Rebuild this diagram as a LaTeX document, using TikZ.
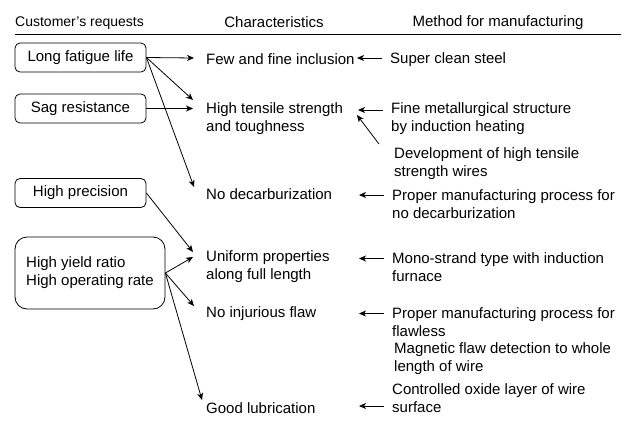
\documentclass[tikz,border=0pt]{standalone}
\usepackage{fontspec}
\setmainfont{Liberation Sans}
\usetikzlibrary{arrows.meta}
\newcommand\bodyfont{\fontsize{15}{18}\selectfont}
\newcommand\headfont{\fontsize{14}{17}\selectfont}
\tikzset{
  req/.style={draw, line width=0.8pt, rounded corners=5pt, minimum width=131pt, minimum height=29pt, inner sep=0pt, font=\bodyfont},
  txt/.style={anchor=west, align=left, inner sep=0pt, font=\bodyfont},
  arr/.style={line width=0.8pt, -{Stealth[length=7pt,width=6pt,inset=2pt]}}
}
\begin{document}
\begin{tikzpicture}[x=1pt, y=-1pt]
      \useasboundingbox (0,0) rectangle (633,421);

      \node[txt, font=\headfont] (hdreq) at (15,23) {Customer’s requests};
      \node[font=\bodyfont, inner sep=0pt] (hdchar) at (274,22.5) {Characteristics};
      \node[font=\bodyfont, inner sep=0pt] (hdmeth) at (498,22.5) {Method for manufacturing};
      \draw[line width=0.8pt] (15,34) -- (621,34);

      \node[req] (rq1) at (80.5,57.5) {Long fatigue life};
      \node[req] (rq2) at (80.5,108.5) {Sag resistance};
      \node[req] (rq3) at (80.5,193) {High precision};
      \node[req, rounded corners=12pt, minimum width=150pt, minimum height=72pt, align=left] (rq4) at (90,273) {High yield ratio\\High operating rate};

      \node[txt] (ch1) at (206,59.5) {Few and fine inclusion};
      \node[txt] (ch2) at (206,118.5) {High tensile strength\\and toughness};
      \node[txt] (ch3) at (206,194.5) {No decarburization};
      \node[txt] (ch4) at (206,266.5) {Uniform properties\\along full length};
      \node[txt] (ch5) at (206,313.5) {No injurious flaw};
      \node[txt] (ch6) at (206,408) {Good lubrication};

      \node[txt] (mt1) at (390,59.5) {Super clean steel};
      \node[txt] (mt2) at (391,119) {Fine metallurgical structure\\by induction heating};
      \node[txt] (mt3) at (394,164) {Development of high tensile\\strength wires};
      \node[txt] (mt4) at (392,204) {Proper manufacturing process for\\no decarburization};
      \node[txt] (mt5) at (392,267.5) {Mono-strand type with induction\\furnace};
      \node[txt] (mt6) at (392,322.5) {Proper manufacturing process for\\flawless};
      \node[txt] (mt7) at (394,359) {Magnetic flaw detection to whole\\length of wire};
      \node[txt] (mt8) at (392,398) {Controlled oxide layer of wire\\surface};

      % requests -> characteristics
      \draw[arr] (rq1.east) -- ([xshift=-12pt,yshift=1.5pt]ch1.west);
      \draw[arr] (rq1.east) -- ([xshift=-13pt,yshift=18.5pt]ch2.west);
      \draw[arr] (rq1.east) -- ([xshift=-12pt,yshift=7.5pt]ch3.west);
      \draw[arr] (rq2.east) -- ([xshift=-13pt,yshift=10pt]ch2.west);
      \draw[arr] (rq3.east) -- ([xshift=-13pt,yshift=14.5pt]ch4.west);
      \draw[arr] (rq4.east) -- ([xshift=-13pt,yshift=9.5pt]ch4.west);
      \draw[arr] (rq4.east) -- ([xshift=-12pt,yshift=7.5pt]ch5.west);
      \draw[arr] (rq4.east) -- ([xshift=-4pt,yshift=8pt]ch6.west);

      % methods -> characteristics
      \foreach \m/\dy in {mt1/1.5, mt2/9, mt4/9, mt5/9, mt6/9, mt8/-8}
        \draw[arr] ([xshift=-8pt,yshift=\dy pt]\m.west) -- ++(-25,0);
      \draw[arr] ([xshift=-15pt,yshift=20pt]mt3.west) -- ([xshift=-34pt,yshift=4pt]mt2.west);
\end{tikzpicture}
\end{document}
